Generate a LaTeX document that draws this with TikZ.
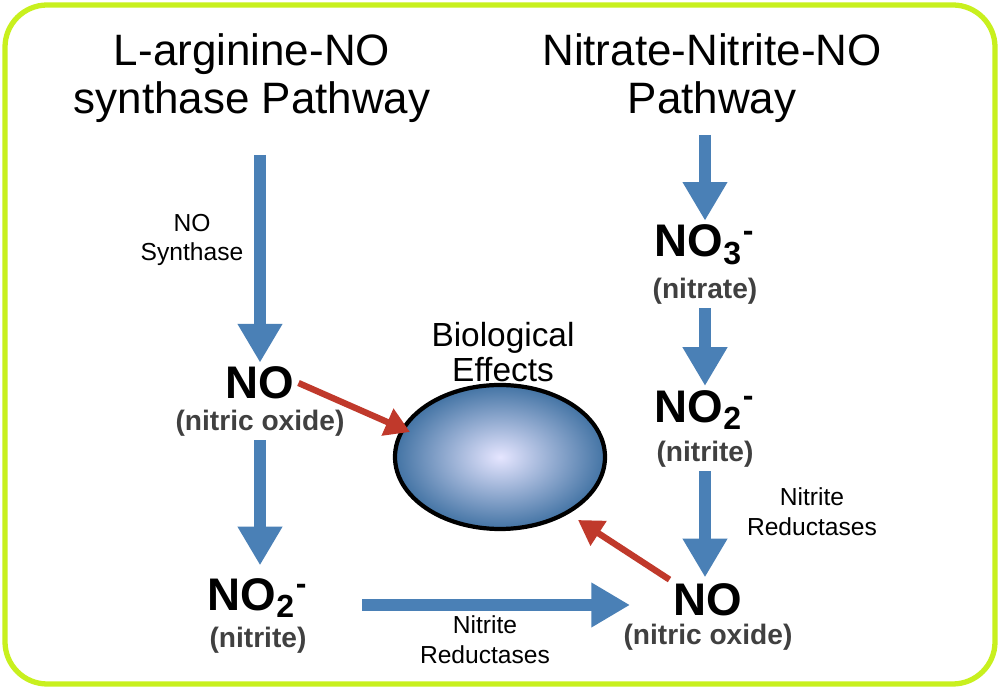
\documentclass[tikz,border=0pt]{standalone}
\usepackage{fontspec}
\setmainfont{Liberation Sans}
\usetikzlibrary{arrows.meta,positioning}
\definecolor{frame}{HTML}{C8F01E}
\definecolor{flow}{HTML}{4A80B6}
\definecolor{effect}{HTML}{C0392B}
\newcommand{\chg}[1]{\textsubscript{#1}\textsuperscript{-}}
\tikzset{
  title/.style={align=center,font=\fontsize{12.5}{13.5}\selectfont},
  chem/.style={font=\bfseries\fontsize{13}{14}\selectfont,inner sep=1pt},
  note/.style={font=\bfseries\fontsize{8}{9}\selectfont,text=black!75,inner sep=1pt},
  enzyme/.style={align=center,font=\fontsize{7}{8.5}\selectfont},
  bigarrow/.style={draw=flow,line width=3.4pt,-{Triangle[length=11pt,width=12pt]}},
  redarrow/.style={draw=effect,line width=1.8pt,-{Triangle[length=7pt,width=8pt]}}
}
\begin{document}
\begin{tikzpicture}[x=0.01cm,y=-0.01cm]
\useasboundingbox (0,0) rectangle (1000,689);
\draw[frame,line width=1.5pt,rounded corners=12pt,fill=white] (5,5) rectangle (995,684);

% titles
\node (argtitle) [title] at (252,78) {L-arginine-NO\\synthase Pathway};
\node (nittitle) [title] at (712,78) {Nitrate-Nitrite-NO\\Pathway};

% left pathway
\node (noleft) [chem] at (260,383) {NO};
\node (noleftn) [note] at (260,423) {(nitric oxide)};
\node (notwoleft) [chem] at (258,598) {NO\chg{2}};
\node (notwoleftn) [note] at (258,640) {(nitrite)};
\node (synthase) [enzyme] at (192,240) {NO\\Synthase};

% right pathway
\node (nothree) [chem] at (705,245) {NO\chg{3}};
\node (nothreen) [note] at (705,291) {(nitrate)};
\node (notworight) [chem] at (705,410) {NO\chg{2}};
\node (notworightn) [note] at (705,454) {(nitrite)};
\node (noright) [chem] at (708,600) {NO};
\node (norightn) [note] at (708,637) {(nitric oxide)};
\node (redright) [enzyme] at (812,512) {Nitrite\\Reductases};
\node (redbottom) [enzyme] at (485,640) {Nitrite\\Reductases};

% effects
\shade[inner color=blue!10,outer color=flow!90!black] (500,457) ellipse [x radius=105,y radius=72];
\draw[line width=1.2pt] (500,457) ellipse [x radius=105,y radius=72];
\node (body) [minimum width=2.1cm,minimum height=1.44cm] at (500,457) {};
\node (effects) [enzyme,font=\fontsize{9.5}{10}\selectfont] at (503,352) {Biological\\Effects};

% arrows
\coordinate (argstart) at (260,155);
\coordinate (nitstart) at (705,135);
\coordinate (bottomstart) at (362,605);
\coordinate (bottomend) at (630,605);
\draw[bigarrow] (argstart) -- (noleft.north);
\draw[bigarrow] (noleftn.south) -- ++(0,125);
\draw[bigarrow] (bottomstart) -- (bottomend);
\draw[bigarrow] (nitstart) -- (nothree.north);
\draw[bigarrow] (nothreen.south) -- (notworight.north);
\draw[bigarrow] (notworightn.south) -- ++(0,106);
\draw[redarrow] (noleft.east) -- (410,432);
\draw[redarrow] (noright.north west) -- (578,520);
\end{tikzpicture}
\end{document}
